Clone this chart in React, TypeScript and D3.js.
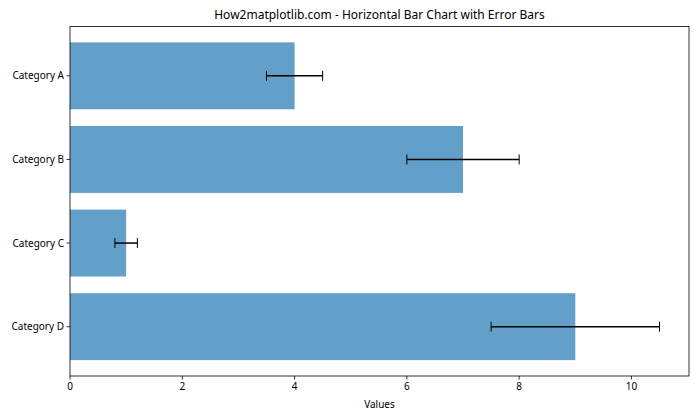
import React from "react";
import * as d3 from "d3";

const categories = ["Category A", "Category B", "Category C", "Category D"];
const values = [4, 7, 1, 9];
const errors = [0.5, 1, 0.2, 1.5];
const xTicks = [0, 2, 4, 6, 8, 10];

const W = 700, H = 420;
const M = { left: 70, right: 689, top: 26.5, bottom: 376 };
const FONT = "'Noto Sans', sans-serif";

export default function App() {
  const xMax = d3.max(values.map((v, i) => v + errors[i]))! * 1.05;
  const x = d3.scaleLinear().domain([0, xMax]).range([M.left, M.right]);
  const n = categories.length;
  const pad = (n - 1 + 0.8) * 0.05;
  const y = d3.scaleLinear().domain([-0.4 - pad, n - 1 + 0.4 + pad]).range([M.top, M.bottom]);
  const bh = y(0.8) - y(0);
  return (
    <svg width={W} height={H} style={{ position: "absolute", left: 0, top: 0, background: "#fff" }} fontFamily={FONT}>
      <text x={(M.left + M.right) / 2} y={19} textAnchor="middle" fontSize={12} fill="#000">How2matplotlib.com - Horizontal Bar Chart with Error Bars</text>
      {values.map((v, i) => (
        <rect key={i} x={x(0)} y={y(i) - bh / 2} width={x(v) - x(0)} height={bh} fill="#1f77b4" fillOpacity={0.7} />
      ))}
      {values.map((v, i) => {
        const cy = y(i);
        const x1 = x(v - errors[i]), x2 = x(v + errors[i]);
        return (
          <g key={i} stroke="#000" strokeWidth={1.5}>
            <line x1={x1} x2={x2} y1={cy} y2={cy} />
            <line x1={x1} x2={x1} y1={cy - 5} y2={cy + 5} strokeWidth={1} />
            <line x1={x2} x2={x2} y1={cy - 5} y2={cy + 5} strokeWidth={1} />
          </g>
        );
      })}
      <rect x={M.left} y={M.top} width={M.right - M.left} height={M.bottom - M.top} fill="none" stroke="#000" strokeWidth={0.8} />
      {xTicks.map((t) => (
        <g key={t} transform={`translate(${x(t)},${M.bottom})`}>
          <line y1={0} y2={3.5} stroke="#000" strokeWidth={0.8} />
          <text y={13.5} textAnchor="middle" fontSize={10} fill="#000">{t}</text>
        </g>
      ))}
      {categories.map((c, i) => (
        <g key={c} transform={`translate(${M.left},${y(i)})`}>
          <line x1={0} x2={-3.5} stroke="#000" strokeWidth={0.8} />
          <text x={-6} dy="0.35em" textAnchor="end" fontSize={10} fill="#000">{c}</text>
        </g>
      ))}
      <text x={(M.left + M.right) / 2} y={408} textAnchor="middle" fontSize={10} fill="#000">Values</text>
    </svg>
  );
}
